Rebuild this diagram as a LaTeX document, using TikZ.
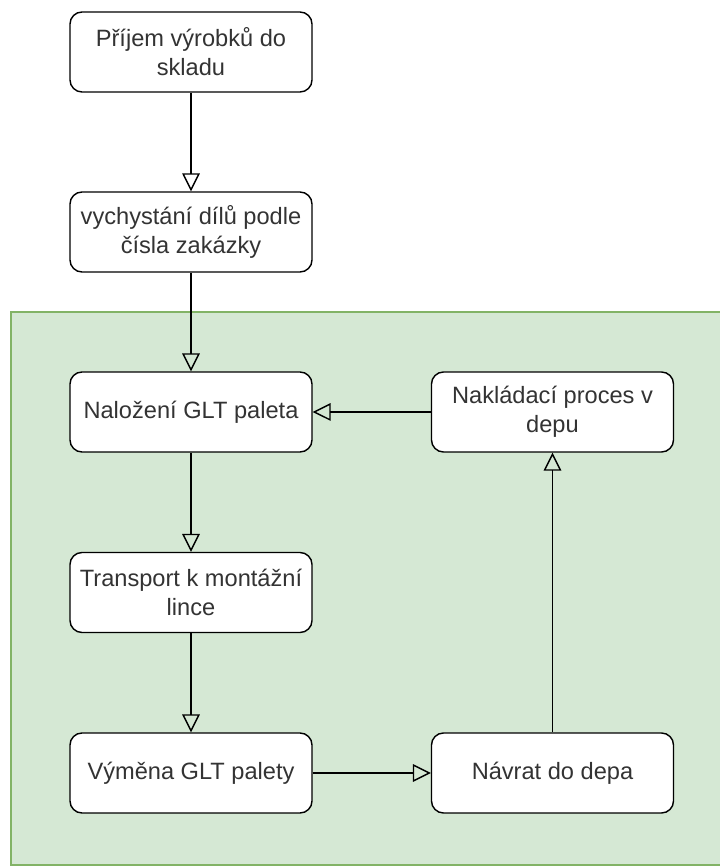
\documentclass[tikz,border=0pt]{standalone}
\usepackage{fontspec}
\setmainfont{Liberation Sans}
\usetikzlibrary{arrows.meta}
\definecolor{groupfill}{RGB}{213,232,212}
\definecolor{groupline}{RGB}{130,179,102}
\definecolor{textgray}{RGB}{51,51,51}

\begin{document}
\begin{tikzpicture}[
    stepbox/.style={draw, line width=1pt, rounded corners=0.3cm, fill=white,
        minimum width=6.05cm, minimum height=2cm, inner sep=0pt, align=center,
        text=textgray, font=\fontsize{16.8}{20.5}\selectfont},
    flow/.style={line width=1pt, -{Triangle[open, length=0.45cm, width=0.44cm]}}
]
    \useasboundingbox (0,0) rectangle (17.975,21.675);
    \draw[groupline, fill=groupfill, line width=1pt] (0.275,0.05) rectangle (18.5,13.875);

    \node[stepbox] (prijem) at (4.775,20.375) {Příjem výrobků do\\skladu};
    \node[stepbox] (vychystani) at (4.775,15.875) {vychystání dílů podle\\čísla zakázky};
    \node[stepbox] (nalozeni) at (4.775,11.375) {Naložení GLT paleta};
    \node[stepbox] (transport) at (4.775,6.8625) {Transport k montážní\\lince};
    \node[stepbox] (vymena) at (4.775,2.35) {Výměna GLT palety};
    \node[stepbox] (navrat) at (13.8125,2.35) {Návrat do depa};
    \node[stepbox] (nakladaci) at (13.8125,11.375) {Nakládací proces v\\depu};

    \draw[flow] (prijem) -- (vychystani);
    \draw[flow] (vychystani) -- (nalozeni);
    \draw[flow] (nalozeni) -- (transport);
    \draw[flow] (transport) -- (vymena);
    \draw[flow] (vymena) -- (navrat);
    \draw[flow] (navrat) -- (nakladaci);
    \draw[flow] (nakladaci) -- (nalozeni);
\end{tikzpicture}
\end{document}
